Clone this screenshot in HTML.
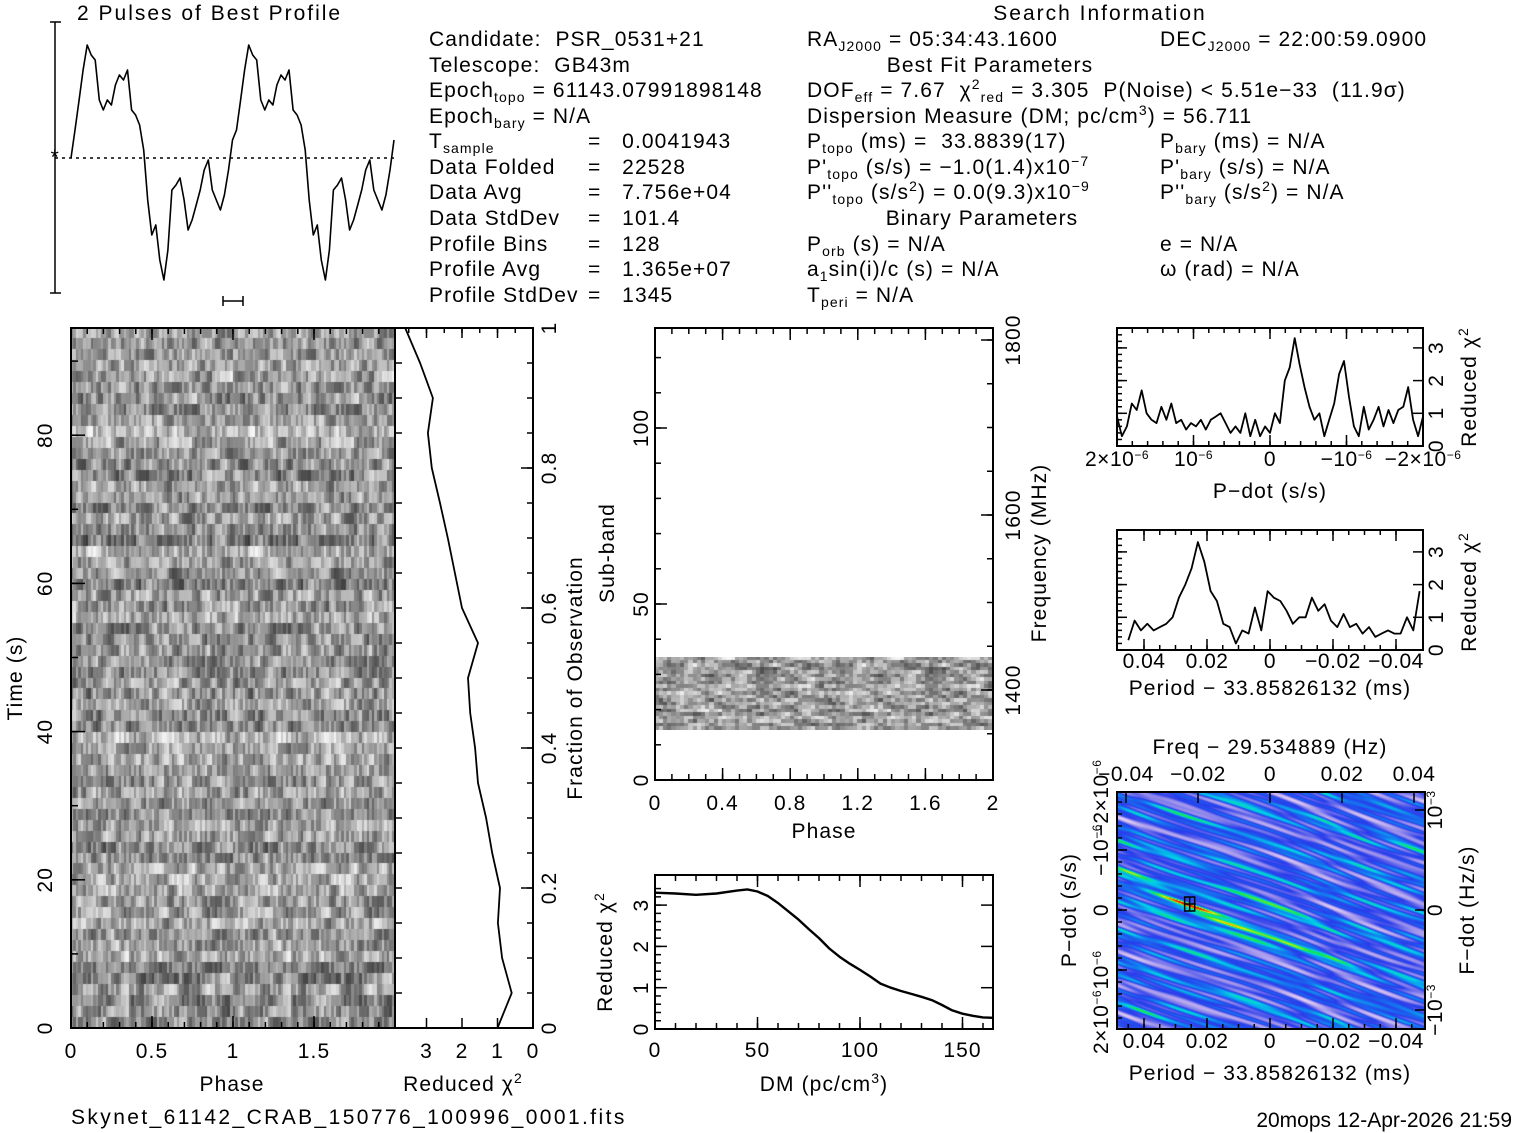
<!DOCTYPE html>
<html><head><meta charset="utf-8"><style>
html,body{margin:0;padding:0;background:#fff;}
#wrap{position:relative;width:1517px;height:1133px;overflow:hidden;}
canvas{position:absolute;}
svg{position:absolute;left:0;top:0;}
text{font-family:"Liberation Sans",sans-serif;font-size:21px;letter-spacing:1.1px;fill:#000;white-space:pre;}
</style></head><body>
<div id="wrap">
<canvas id="tpimg" width="324" height="700" style="left:71px;top:328px;width:324px;height:700px"></canvas>
<canvas id="sbimg" width="338" height="73" style="left:655px;top:657px;width:338px;height:73px"></canvas>
<canvas id="ppimg" width="308" height="237" style="left:1117px;top:792px;width:308px;height:237px"></canvas>
<svg id="fig" width="1517" height="1133">
<text x="77" y="20" style="letter-spacing:2px">2 Pulses of Best Profile</text>
<text x="1100" y="20" text-anchor="middle" style="letter-spacing:2px">Search Information</text>
<g>
<text x="429" y="46">Candidate:  PSR_0531+21</text>
<text x="429" y="72">Telescope:  GB43m</text>
<text x="429" y="97">Epoch<tspan font-size="14" dy="5">topo</tspan><tspan dy="-5"> = 61143.07991898148</tspan></text>
<text x="429" y="123">Epoch<tspan font-size="14" dy="5">bary</tspan><tspan dy="-5"> = N/A</tspan></text>
<text x="429" y="148">T<tspan font-size="14" dy="5">sample</tspan></text><text x="588" y="148">=   0.0041943</text>
<text x="429" y="174">Data Folded</text><text x="588" y="174">=   22528</text>
<text x="429" y="199">Data Avg</text><text x="588" y="199">=   7.756e+04</text>
<text x="429" y="225">Data StdDev</text><text x="588" y="225">=   101.4</text>
<text x="429" y="251">Profile Bins</text><text x="588" y="251">=   128</text>
<text x="429" y="276">Profile Avg</text><text x="588" y="276">=   1.365e+07</text>
<text x="429" y="302">Profile StdDev</text><text x="588" y="302">=   1345</text>
</g>
<g>
<text x="807" y="46">RA<tspan font-size="14" dy="5">J2000</tspan><tspan dy="-5"> = 05:34:43.1600</tspan></text>
<text x="990" y="72" text-anchor="middle">Best Fit Parameters</text>
<text x="807" y="97">DOF<tspan font-size="14" dy="5">eff</tspan><tspan dy="-5"> = 7.67  χ</tspan><tspan font-size="14" dy="-8">2</tspan><tspan font-size="14" dy="13">red</tspan><tspan dy="-5"> = 3.305  P(Noise) &lt; 5.51e−33  (11.9σ)</tspan></text>
<text x="807" y="123">Dispersion Measure (DM; pc/cm<tspan font-size="14" dy="-8">3</tspan><tspan dy="8">) = 56.711</tspan></text>
<text x="807" y="148">P<tspan font-size="14" dy="5">topo</tspan><tspan dy="-5"> (ms) =  33.8839(17)</tspan></text>
<text x="807" y="174">P'<tspan font-size="14" dy="5">topo</tspan><tspan dy="-5"> (s/s) = −1.0(1.4)x10</tspan><tspan font-size="14" dy="-8">−7</tspan></text>
<text x="807" y="199">P''<tspan font-size="14" dy="5">topo</tspan><tspan dy="-5"> (s/s</tspan><tspan font-size="14" dy="-8">2</tspan><tspan dy="8">) = 0.0(9.3)x10</tspan><tspan font-size="14" dy="-8">−9</tspan></text>
<text x="982" y="225" text-anchor="middle">Binary Parameters</text>
<text x="807" y="251">P<tspan font-size="14" dy="5">orb</tspan><tspan dy="-5"> (s) = N/A</tspan></text>
<text x="807" y="276">a<tspan font-size="14" dy="5">1</tspan><tspan dy="-5">sin(i)/c (s) = N/A</tspan></text>
<text x="807" y="302">T<tspan font-size="14" dy="5">peri</tspan><tspan dy="-5"> = N/A</tspan></text>
</g>
<g>
<text x="1160" y="46">DEC<tspan font-size="14" dy="5">J2000</tspan><tspan dy="-5"> = 22:00:59.0900</tspan></text>
<text x="1160" y="148">P<tspan font-size="14" dy="5">bary</tspan><tspan dy="-5"> (ms) = N/A</tspan></text>
<text x="1160" y="174">P'<tspan font-size="14" dy="5">bary</tspan><tspan dy="-5"> (s/s) = N/A</tspan></text>
<text x="1160" y="199">P''<tspan font-size="14" dy="5">bary</tspan><tspan dy="-5"> (s/s</tspan><tspan font-size="14" dy="-8">2</tspan><tspan dy="8">) = N/A</tspan></text>
<text x="1160" y="251">e = N/A</text>
<text x="1160" y="276">ω (rad) = N/A</text>
</g>
<text x="71" y="1124" font-size="22" style="letter-spacing:2.4px">Skynet_61142_CRAB_150776_100996_0001.fits</text>
<text x="1512" y="1127" text-anchor="end" font-size="16" style="letter-spacing:0px">20mops 12-Apr-2026 21:59</text>
</svg>
</div>
<script>
// ---------- data ----------
const profileBins = [0,28,58,88,113,103,98,58,48,58,53,73,83,78,88,48,43,33,8,-42,-77,-67,-102,-122,-92,-32,-27,-20,-42,-72,-62,-47,-32,-12,-2,-32,-42,-52,-37,-12,18];
const timeFrac = [0,0.05,0.1,0.15,0.2,0.25,0.3,0.35,0.4,0.45,0.5,0.55,0.6,0.65,0.7,0.75,0.8,0.85,0.9,0.95,1.0];
const timeChi2 = [1.0,0.6,0.87,0.99,0.93,1.15,1.32,1.55,1.63,1.77,1.83,1.55,2.0,2.2,2.4,2.62,2.85,2.96,2.82,3.18,3.6];
const dmValues = [0,10,20,30,40,45,50,55,60,65,70,75,80,85,90,95,100,105,110,115,120,125,130,135,140,145,150,155,160,165];
const dmChi2 = [3.3,3.28,3.25,3.28,3.35,3.38,3.33,3.22,3.05,2.85,2.65,2.42,2.2,1.95,1.75,1.58,1.43,1.27,1.1,1.0,0.92,0.85,0.78,0.7,0.58,0.45,0.37,0.32,0.28,0.27];
const pdotChi2 = [0.9,0.3,0.6,1.3,1.1,1.7,1.0,0.8,0.7,1.2,0.8,1.3,0.7,0.8,0.5,0.7,0.6,0.8,0.5,0.8,0.9,1.0,0.7,0.4,0.6,0.4,1.0,0.3,0.8,0.3,0.6,0.4,1.0,0.7,2.0,2.4,3.3,2.5,1.8,1.2,0.8,1.0,0.3,0.8,1.3,2.2,2.6,1.5,0.6,0.3,1.2,0.5,0.8,1.2,0.6,1.1,0.7,1.1,1.2,1.8,0.8,0.3,0.9];
const periodChi2 = [0.3,0.9,0.6,0.8,0.6,0.7,0.8,1.0,1.6,2.0,2.5,3.3,2.7,1.8,1.5,0.8,0.7,0.2,0.6,0.5,1.3,0.6,1.8,1.6,1.5,1.2,0.8,1.0,1.0,1.6,1.2,1.4,0.9,0.7,1.1,0.7,0.8,0.5,0.7,0.4,0.5,0.6,0.5,0.5,1.0,0.6,1.8];
const pdotRange = [2.0,-2.0];      // units of 1e-6 s/s
const periodRange = [0.045,-0.0475]; // ms

const NS='http://www.w3.org/2000/svg';
const svg=document.getElementById('fig');
function mk(tag,attrs,name){
  const el=document.createElementNS(NS,tag);
  for(const k in attrs) el.setAttribute(k,attrs[k]);
  
  
  svg.appendChild(el);return el;
}
function line(x1,y1,x2,y2,name,w){return mk('line',{x1,y1,x2,y2,stroke:'#000','stroke-width':w||1.5},name);}
function txt(x,y,s,name,opt){
  opt=opt||{};
  const a={x,y,'text-anchor':opt.anchor||'middle'};
  if(opt.rot!==undefined)a.transform='rotate('+opt.rot+' '+x+' '+y+')';
  if(opt.size){a['font-size']=opt.size;a.style='letter-spacing:0.5px';}
  const t=mk('text',a,name);t.innerHTML=s;return t;
}
function box(x0,y0,x1,y1,name){mk('rect',{x:x0,y:y0,width:x1-x0,height:y1-y0,fill:'none',stroke:'#000','stroke-width':2},name);}
function ticksX(vals,X,y,len,dir,name){vals.forEach(v=>line(X(v),y,X(v),y+dir*len,name,1.5));}
function ticksY(vals,Y,x,len,dir,name){vals.forEach(v=>line(x,Y(v),x+dir*len,Y(v),name,1.5));}
function range(a,b,s){const r=[];for(let v=a;v<=b+1e-9;v+=s)r.push(+v.toFixed(6));return r;}
function poly(pts,name,w){return mk('polyline',{points:pts.map(p=>p[0].toFixed(1)+','+p[1].toFixed(1)).join(' '),fill:'none',stroke:'#000','stroke-width':w||1.8,'stroke-linejoin':'round'},name);}

// ---------- profile ----------
(function(){
  const n=profileBins.length-1;
  const X=ph=>71+ph*161.5, Y=v=>158-v;
  const pts=[];
  for(let k=0;k<2;k++)for(let i=0;i<=n;i++){if(k==1&&i==0)continue;pts.push([X(k+i/n),Y(profileBins[i])]);}
  poly(pts,'profile-line',1.6);
  line(55,22,55,293,'profile-y-axis',1.5);
  line(50,22,61,22,'profile-y-tick-top');line(50,293,61,293,'profile-y-tick-bottom');
  mk('line',{x1:55,y1:158,x2:395,y2:158,stroke:'#000','stroke-width':1.5,'stroke-dasharray':'3,4'},'profile-mean-line');
  txt(55,164,'*','profile-mean-marker',{size:18});
  line(223,301,243,301,'profile-errorbar');line(223,296,223,306,'profile-errorbar-cap');line(243,296,243,306,'profile-errorbar-cap');
})();

// ---------- time-phase ----------
(function(){
  const X=p=>71+p*162, Y=t=>1028-t*7.41;
  box(71,328,395,1028,'time-phase-frame');
  ticksX(range(0,2,0.1),X,328,6,1,'phase-minor-tick');ticksX(range(0,2,0.5),X,328,12,1,'phase-major-tick');
  ticksX(range(0,2,0.1),X,1028,-6,1,'phase-minor-tick');ticksX(range(0,2,0.5),X,1028,-12,1,'phase-major-tick');
  ticksY(range(0,90,10),Y,71,7,1,'time-tick');ticksY(range(0,80,20),Y,71,14,1,'time-major-tick');
  [0,0.5,1,1.5].forEach(v=>txt(X(v),1058,String(v),'phase-tick-label'));
  [0,20,40,60,80].forEach(v=>txt(52,Y(v),String(v),'time-tick-label',{rot:-90}));
  txt(232,1091,'Phase','phase-axis-title');
  txt(22,678,'Time (s)','time-axis-title',{rot:-90});
  const CX=c=>533-c*35.5, FY=f=>1028-f*700;
  box(395,328,533,1028,'time-chi2-frame');
  ticksX(range(0,3.5,0.5),CX,328,5,1,'chi2-minor-tick');ticksX([0,1,2,3],CX,328,10,1,'chi2-major-tick');
  ticksX([0,1,2,3],CX,1028,-10,1,'chi2-major-tick');
  ticksY(range(0,1,0.05),FY,395,7,1,'frac-minor-tick');
  ticksY(range(0,1,0.2),FY,533,-12,1,'frac-major-tick');ticksY(range(0,1,0.05),FY,533,-6,1,'frac-minor-tick');
  [0,1,2,3].forEach(v=>txt(CX(v),1058,String(v),'chi2-tick-label'));
  [0,0.2,0.4,0.6,0.8,1].forEach(v=>txt(556,FY(v),String(v),'frac-tick-label',{rot:-90}));
  txt(463,1091,'Reduced χ<tspan font-size="14" dy="-8">2</tspan>','time-chi2-axis-title');
  txt(582,678,'Fraction of Observation','frac-axis-title',{rot:-90});
  poly(timeFrac.map((f,i)=>[CX(timeChi2[i]),FY(f)]),'time-chi2-line',1.8);
})();

// ---------- subbands ----------
(function(){
  const X=p=>655+p*169, Y=s=>780-s*3.52, FY=f=>690-(f-1400)*0.875;
  box(655,328,993,780,'subband-frame');
  ticksX(range(0,2,0.1),X,780,-6,1,'sb-phase-tick');ticksX(range(0,2,0.4),X,780,-12,1,'sb-phase-major-tick');
  ticksX(range(0,2,0.4),X,328,12,1,'sb-phase-major-tick');ticksX(range(0,2,0.1),X,328,6,1,'sb-phase-tick');
  ticksY(range(0,125,10),Y,655,6,1,'subband-tick');ticksY([0,50,100],Y,655,12,1,'subband-major-tick');
  ticksY(range(1350,1800,50),FY,993,-6,1,'freq-tick');ticksY([1400,1600,1800],FY,993,-12,1,'freq-major-tick');
  ['0','0.4','0.8','1.2','1.6','2'].forEach((s,i)=>txt(X(i*0.4),810,s,'sb-phase-tick-label'));
  [0,50,100].forEach(v=>txt(648,Y(v),String(v),'subband-tick-label',{rot:-90}));
  [1400,1600,1800].forEach(v=>txt(1020,FY(v),String(v),'freq-tick-label',{rot:-90}));
  txt(824,838,'Phase','sb-phase-axis-title');
  txt(614,553,'Sub-band','subband-axis-title',{rot:-90});
  txt(1046,553,'Frequency (MHz)','freq-axis-title',{rot:-90});
})();

// ---------- DM ----------
(function(){
  const X=d=>655+d*2.05, Y=c=>1029-c*41.3;
  box(655,875,993,1029,'dm-frame');
  ticksX(range(0,160,10),X,875,6,1,'dm-tick');ticksX([0,50,100,150],X,875,12,1,'dm-major-tick');
  ticksX(range(0,160,10),X,1029,-6,1,'dm-tick');ticksX([0,50,100,150],X,1029,-12,1,'dm-major-tick');
  ticksY(range(0,3.5,0.2),Y,655,6,1,'dm-chi2-tick');ticksY([0,1,2,3],Y,655,12,1,'dm-chi2-major-tick');
  ticksY([0,1,2,3],Y,993,-12,1,'dm-chi2-major-tick');
  [0,50,100,150].forEach(v=>txt(X(v),1057,String(v),'dm-tick-label'));
  [0,1,2,3].forEach(v=>txt(648,Y(v),String(v),'dm-chi2-tick-label',{rot:-90}));
  txt(824,1091,'DM (pc/cm<tspan font-size="14" dy="-8">3</tspan><tspan dy="8">)</tspan>','dm-axis-title');
  txt(612,952,'Reduced χ<tspan font-size="14" dy="-8">2</tspan>','dm-chi2-axis-title',{rot:-90});
  poly(dmValues.map((d,i)=>[X(d),Y(dmChi2[i])]),'dm-chi2-line',2.4);
})();

// ---------- P-dot ----------
(function(){
  const X=p=>1270-p*76.5, Y=c=>446-c*32.7;
  box(1117,328,1423,446,'pdot-frame');
  ticksX(range(-2,2,0.2),X,446,-5,1,'pdot-tick');ticksX([-2,-1,0,1,2],X,446,-11,1,'pdot-major-tick');
  ticksX(range(-2,2,0.2),X,328,5,1,'pdot-tick');ticksX([-2,-1,0,1,2],X,328,11,1,'pdot-major-tick');
  ticksY(range(0,3.5,0.2),Y,1117,5,1,'pdot-chi2-tick');ticksY([0,1,2,3],Y,1117,10,1,'pdot-chi2-major-tick');
  ticksY([0,1,2,3],Y,1423,-10,1,'pdot-chi2-major-tick');
  const lab=['2×10<tspan font-size="12" dy="-7">−6</tspan>','10<tspan font-size="12" dy="-7">−6</tspan>','0','−10<tspan font-size="12" dy="-7">−6</tspan>','−2×10<tspan font-size="12" dy="-7">−6</tspan>'];
  [2,1,0,-1,-2].forEach((v,i)=>txt(X(v),466,lab[i],'pdot-tick-label',{size:15}));
  [0,1,2,3].forEach(v=>txt(1443,Y(v),String(v),'pdot-chi2-tick-label',{rot:-90,size:15}));
  txt(1270,498,'P−dot (s/s)','pdot-axis-title');
  txt(1476,387,'Reduced χ<tspan font-size="14" dy="-8">2</tspan>','pdot-chi2-axis-title',{rot:-90});
  const n=pdotChi2.length-1;
  poly(pdotChi2.map((c,i)=>[X(pdotRange[0]+(pdotRange[1]-pdotRange[0])*i/n),Y(c)]),'pdot-chi2-line',1.8);
})();

// ---------- Period ----------
(function(){
  const X=p=>1270-p*3150, Y=c=>650-c*32.7;
  box(1117,530,1423,650,'period-frame');
  ticksX(range(-0.04,0.04,0.005),X,650,-5,1,'period-tick');ticksX([-0.04,-0.02,0,0.02,0.04],X,650,-11,1,'period-major-tick');
  ticksX(range(-0.04,0.04,0.005),X,530,5,1,'period-tick');ticksX([-0.04,-0.02,0,0.02,0.04],X,530,11,1,'period-major-tick');
  ticksY(range(0,3.5,0.2),Y,1117,5,1,'period-chi2-tick');ticksY([0,1,2,3],Y,1117,10,1,'period-chi2-major-tick');
  ticksY([0,1,2,3],Y,1423,-10,1,'period-chi2-major-tick');
  [[0.04,'0.04'],[0.02,'0.02'],[0,'0'],[-0.02,'−0.02'],[-0.04,'−0.04']].forEach(a=>txt(X(a[0]),668,a[1],'period-tick-label',{size:15}));
  [0,1,2,3].forEach(v=>txt(1443,Y(v),String(v),'period-chi2-tick-label',{rot:-90,size:15}));
  txt(1270,695,'Period − 33.85826132 (ms)','period-axis-title');
  txt(1476,592,'Reduced χ<tspan font-size="14" dy="-8">2</tspan>','period-chi2-axis-title',{rot:-90});
  const n=periodChi2.length-1;
  poly(periodChi2.map((c,i)=>[X(periodRange[0]+(periodRange[1]-periodRange[0])*i/n),Y(c)]),'period-chi2-line',1.8);
})();

// ---------- P-Pdot ----------
(function(){
  const X=p=>1270-p*3150, Y=pd=>910+pd*60, FX=f=>1270+f*3600;
  box(1117,792,1425,1029,'ppdot-frame');
  ticksX(range(-0.045,0.045,0.005),X,1029,-5,1,'pp-period-tick');ticksX([-0.04,-0.02,0,0.02,0.04],X,1029,-11,1,'pp-period-major-tick');
  ticksX([-0.04,-0.02,0,0.02,0.04],FX,792,11,1,'pp-freq-tick');
  ticksY(range(-1.8,1.8,0.2),Y,1117,5,1,'pp-pdot-tick');ticksY([-1,0,1],Y,1117,10,1,'pp-pdot-major-tick');
  ticksY([-1,0,1],p=>910-p*100,1425,-10,1,'pp-fdot-tick');
  [[0.04,'0.04'],[0.02,'0.02'],[0,'0'],[-0.02,'−0.02'],[-0.04,'−0.04']].forEach(a=>txt(X(a[0]),1048,a[1],'pp-period-tick-label',{size:15}));
  [[-0.04,'−0.04'],[-0.02,'−0.02'],[0,'0'],[0.02,'0.02'],[0.04,'0.04']].forEach(a=>txt(FX(a[0]),781,a[1],'pp-freq-tick-label',{size:15}));
  txt(1270,754,'Freq − 29.534889 (Hz)','pp-freq-axis-title');
  txt(1270,1080,'Period − 33.85826132 (ms)','pp-period-axis-title');
  const pl=[[-2,'−2×10<tspan font-size="12" dy="-7">−6</tspan>'],[-1,'−10<tspan font-size="12" dy="-7">−6</tspan>'],[0,'0'],[1,'10<tspan font-size="12" dy="-7">−6</tspan>'],[2,'2×10<tspan font-size="12" dy="-7">−6</tspan>']];
  pl.forEach(a=>txt(1108,Y(a[0])+(a[0]==2?-8:(a[0]==-2?8:0)),a[1],'pp-pdot-tick-label',{rot:-90,size:15}));
  [[1,'10<tspan font-size="12" dy="-7">−3</tspan>'],[0,'0'],[-1,'−10<tspan font-size="12" dy="-7">−3</tspan>']].forEach(a=>txt(1442,910-a[0]*100,a[1],'pp-fdot-tick-label',{rot:-90,size:15}));
  txt(1076,910,'P−dot (s/s)','pp-pdot-axis-title',{rot:-90});
  txt(1474,910,'F−dot (Hz/s)','pp-fdot-axis-title',{rot:-90});
  const bx=X(0.0255), by=Y(-0.1);
  mk('rect',{x:bx-5,y:by-7,width:10,height:14,fill:'none',stroke:'#000','stroke-width':1.5},'best-fit-marker');
  line(bx-6,by,bx+6,by,'best-fit-marker-cross');line(bx,by-7,bx,by+7,'best-fit-marker-cross');
})();

// ---------- images (noise texture) ----------
let seed=12345;function rnd(){seed=(seed*1103515245+12345)&0x7fffffff;return seed/0x7fffffff;}
(function(){
  const c=document.getElementById('tpimg').getContext('2d');
  const rows=64,cols=64,w=324/(cols*2),h=700/rows;
  for(let r=0;r<rows;r++){
    const rowOff=(rnd()-0.5)*0.15;
    const vals=[];let prev=0.6;
    for(let k=0;k<cols;k++){prev=0.45*prev+0.55*(0.6+rowOff+(rnd()-0.5)*0.75);vals.push(prev);}
    for(let rep=0;rep<2;rep++)for(let k=0;k<cols;k++){
      const g=Math.max(0,Math.min(255,Math.round(vals[k]*255)));
      c.fillStyle='rgb('+g+','+g+','+g+')';
      c.fillRect(Math.floor((rep*cols+k)*w),Math.floor(r*h),Math.ceil(w)+1,Math.ceil(h)+1);
    }
  }
})();
(function(){
  const c=document.getElementById('sbimg').getContext('2d');
  const rows=21,cols=40,w=338/(cols*2),h=73/rows;
  for(let r=0;r<rows;r++){
    const vals=[];let prev=0.6;
    for(let k=0;k<cols;k++){prev=0.55*prev+0.45*(0.62+(rnd()-0.5)*0.9);vals.push(prev);}
    for(let rep=0;rep<2;rep++)for(let k=0;k<cols;k++){
      const g=Math.max(0,Math.min(255,Math.round(vals[k]*255)));
      c.fillStyle='rgb('+g+','+g+','+g+')';
      c.fillRect(Math.floor((rep*cols+k)*w),Math.floor(r*h),Math.ceil(w)+1,Math.ceil(h)+1);
    }
  }
})();
(function(){
  const cv=document.getElementById('ppimg'),c=cv.getContext('2d');
  const W=308,H=237,img=c.createImageData(W,H);
  const stops=[[0,[235,215,245]],[0.25,[150,140,235]],[0.45,[40,60,235]],[0.62,[20,120,240]],[0.74,[0,210,230]],[0.85,[20,230,70]],[0.93,[240,240,0]],[1,[240,20,0]]];
  function cmap(v){v=Math.max(0,Math.min(1,v));for(let i=1;i<stops.length;i++){if(v<=stops[i][0]){const a=stops[i-1],b=stops[i],t=(v-a[0])/(b[0]-a[0]);return a[1].map((x,j)=>x+(b[1][j]-x)*t);}}return stops[stops.length-1][1];}
  const ph=[];for(let i=0;i<8;i++)ph.push(rnd()*6.28);
  const bx=71,by=113;
  for(let y=0;y<H;y++)for(let x=0;x<W;x++){
    const t=y-0.38*x;
    let v=0.45+0.13*Math.sin(t*0.42+2.5*Math.sin(x*0.013+ph[0])+ph[1])+0.12*Math.sin(t*0.19+x*0.021+ph[2])+0.08*Math.sin(t*0.93+x*0.05+ph[3])+0.07*Math.sin(t*0.71+3*Math.sin(x*0.03+ph[4]))+0.06*Math.sin(t*0.29-x*0.04+ph[5]);
    const d=(y-by)-0.38*(x-bx);
    v+=0.4*Math.exp(-d*d/90)*Math.exp(-Math.pow((x-bx-10)/100,2));
    v+=0.22*Math.exp(-Math.pow(d+35,2)/50)*Math.exp(-Math.pow((x-80)/110,2));
    const col=cmap(v),o=(y*W+x)*4;
    img.data[o]=col[0];img.data[o+1]=col[1];img.data[o+2]=col[2];img.data[o+3]=255;
  }
  c.putImageData(img,0,0);
})();
</script>
</body></html>
